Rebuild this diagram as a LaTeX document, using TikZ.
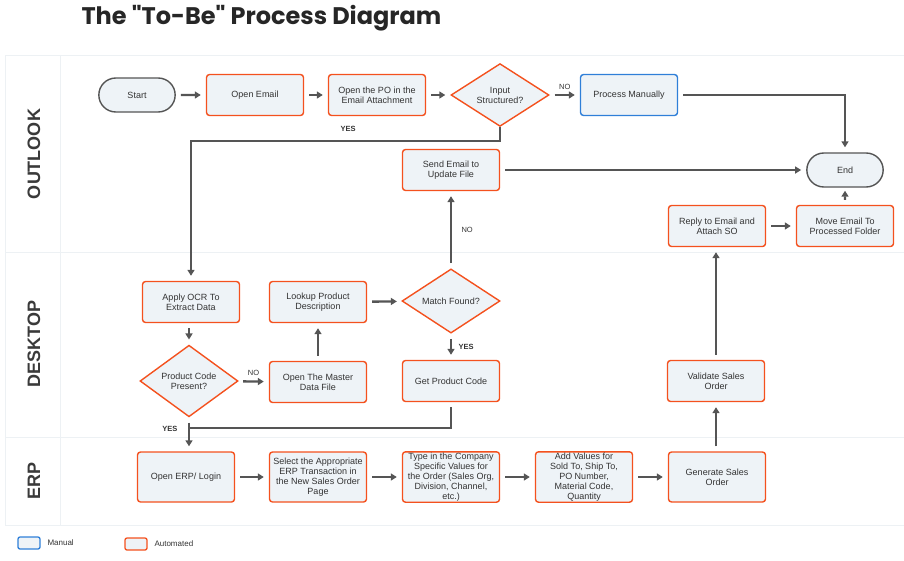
\documentclass[tikz,border=0pt]{standalone}
\usepackage{fontspec}
\setmainfont{Liberation Sans}
\newfontfamily\titlefont{Poppins}
\usetikzlibrary{shapes.geometric,shapes.misc,arrows.meta}
\definecolor{autoc}{HTML}{F4511E}
\definecolor{manc}{HTML}{2F7FD8}
\definecolor{boxfill}{HTML}{EEF3F7}
\definecolor{linec}{HTML}{555555}
\definecolor{lanec}{HTML}{EDF1F4}
\definecolor{txtc}{HTML}{333333}
\definecolor{lanetxt}{HTML}{3A3A3A}
\begin{document}
\begin{tikzpicture}[x=1pt,y=-1pt,
 box/.style={rectangle,rounded corners=3pt,draw=autoc,line width=1.4pt,fill=boxfill,
  minimum width=97pt,minimum height=41pt,align=center,inner sep=1pt,
  font=\fontsize{9}{10}\selectfont,text=txtc},
 manual/.style={box,draw=manc},
 decision/.style={diamond,draw=autoc,line width=1.4pt,fill=boxfill,minimum width=98pt,
  minimum height=57pt,inner sep=0pt,align=center,font=\fontsize{9}{10}\selectfont,text=txtc},
 terminal/.style={rounded rectangle,draw=linec,line width=1.4pt,fill=boxfill,
  minimum width=83pt,minimum height=34pt,font=\fontsize{9}{10}\selectfont,text=txtc},
 flow/.style={draw=linec,line width=2.4pt,-{Triangle[length=6pt,width=7pt]},
  shorten <=5pt,shorten >=5pt},
 link/.style={draw=linec,line width=2.4pt},
 tag/.style={font=\bfseries\fontsize{7.5}{8}\selectfont,text=txtc},
 lane/.style={font=\bfseries\fontsize{18}{18}\selectfont,text=lanetxt,rotate=90}]
\useasboundingbox (0,0) rectangle (904,560);
% title
\node[anchor=west,text=black!85,font=\titlefont\bfseries\fontsize{24}{26}\selectfont] (title) at (78,18) {The "To-Be" Process Diagram};
% swimlanes
\draw[lanec,line width=0.8pt] (904,55) -- (5,55) -- (5,525) -- (904,525);
\draw[lanec,line width=0.8pt] (60,55) -- (60,525);
\draw[lanec,line width=0.8pt] (5,252) -- (904,252);
\draw[lanec,line width=0.8pt] (5,437) -- (904,437);
\node[lane] (outlook) at (34,154) {OUTLOOK};
\node[lane] (desktop) at (34,344) {DESKTOP};
\node[lane] (erplane) at (34,481) {ERP};
% outlook
\node[terminal] (start) at (137,95) {Start};
\node[box] (email) at (255,95) {Open Email};
\node[box] (po) at (377,95) {Open the PO in the\\Email Attachment};
\node[decision] (input) at (500,95) {Input\\Structured?};
\node[manual] (manual) at (629,95) {Process Manually};
\node[terminal] (end) at (845,170) {End};
\node[box] (send) at (451,170) {Send Email to\\Update File};
\node[box] (reply) at (717,226) {Reply to Email and\\Attach SO};
\node[box] (move) at (845,226) {Move Email To\\Processed Folder};
% desktop
\node[box] (ocr) at (191,302) {Apply OCR To\\Extract Data};
\node[box] (lookup) at (318,302) {Lookup Product\\Description};
\node[decision] (match) at (451,301) {Match Found?};
\node[decision] (pcp) at (189,381) {Product Code\\Present?};
\node[box] (master) at (318,382) {Open The Master\\Data File};
\node[box] (getcode) at (451,381) {Get Product Code};
\node[box] (validate) at (716,381) {Validate Sales\\Order};
% erp
\node[box,minimum height=50pt] (erp) at (186,477) {Open ERP/ Login};
\node[box,minimum height=50pt] (select) at (318,477) {Select the Appropriate\\ERP Transaction in\\the New Sales Order\\Page};
\node[box,minimum height=50pt] (type) at (451,477) {Type in the Company\\Specific Values for\\the Order (Sales Org,\\Division, Channel,\\etc.)};
\node[box,minimum height=50pt] (values) at (584,477) {Add Values for\\Sold To, Ship To,\\PO Number,\\Material Code,\\Quantity};
\node[box,minimum height=50pt] (generate) at (717,477) {Generate Sales\\Order};
% connectors
\draw[flow] (start) -- (email);
\draw[flow] (email) -- (po);
\draw[flow] (po) -- (input);
\draw[flow] (input) -- node[tag,above=1pt,font=\fontsize{7.5}{8}\selectfont] (no1) {NO} (manual);
\draw[flow] (manual.east) -| (end.north);
\draw[flow,shorten <=0pt] (input.south) -- ++(0,14) -| (ocr.north);
\node[tag] (yes1) at (348,129) {YES};
\draw[flow] (send) -- (end);
\draw[flow] (match.north) -- node[tag,right=6pt,font=\fontsize{7.5}{8}\selectfont] (no2) {NO} (send.south);
\draw[flow] (lookup) -- (match);
\draw[flow] (master) -- (lookup);
\draw[flow] (ocr.south -| pcp) -- (pcp.north);
\draw[flow] (pcp) -- node[tag,above=1pt,font=\fontsize{7.5}{8}\selectfont] (no3) {NO} (master);
\draw[flow] (match.south) -- node[tag,right=3pt] (yes2) {YES} (getcode.north);
\coordinate (join) at (189,428);
\draw[flow] (pcp.south) -- (pcp.south |- erp.north);
\draw[link,shorten <=5pt] (getcode.south) |- (join);
\node[tag,anchor=east] (yes3) at (181,429) {YES};
\draw[flow] (erp) -- (select);
\draw[flow] (select) -- (type);
\draw[flow] (type) -- (values);
\draw[flow] (values) -- (generate);
\draw[flow] (generate.north -| validate) -- (validate.south);
\draw[flow] (validate) -- (validate |- reply.south);
\draw[flow] (reply) -- (move);
\draw[flow,shorten >=3pt] (move) -- (end);
% legend
\node[rectangle,rounded corners=2pt,draw=manc,line width=1.3pt,fill=boxfill,minimum width=22pt,minimum height=12pt,inner sep=0pt] (keyman) at (29,543) {};
\node[anchor=west,font=\fontsize{8}{9}\selectfont,text=txtc] (keymantxt) at (44,543) {Manual};
\node[rectangle,rounded corners=2pt,draw=autoc,line width=1.3pt,fill=boxfill,minimum width=22pt,minimum height=12pt,inner sep=0pt] (keyauto) at (136,544) {};
\node[anchor=west,font=\fontsize{8}{9}\selectfont,text=txtc] (keyautotxt) at (151,544) {Automated};
\end{tikzpicture}
\end{document}
